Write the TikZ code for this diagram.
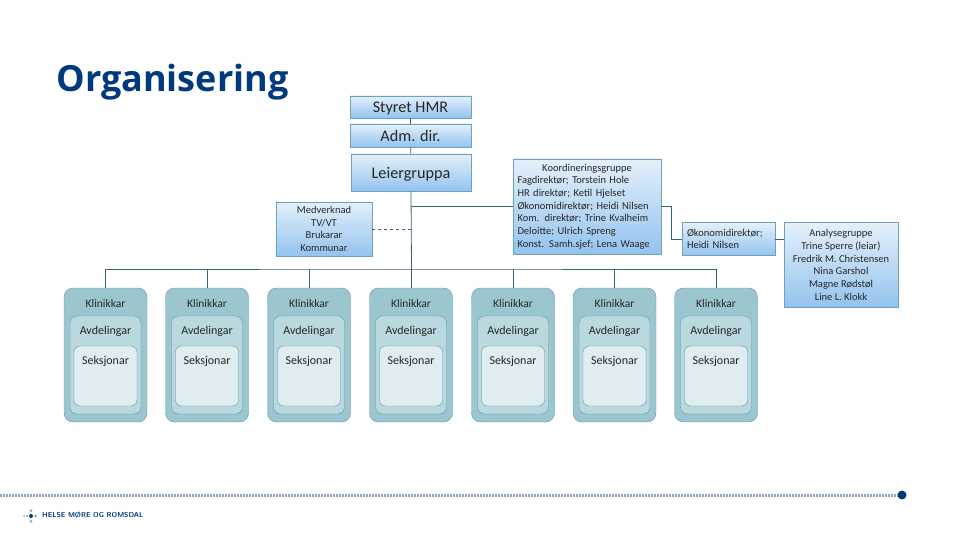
\documentclass[tikz,border=0pt]{standalone}
\usepackage{fontspec}
\setmainfont{Carlito}
\newfontfamily\titlefont{Open Sans}
\usetikzlibrary{positioning}
\definecolor{TitleBlue}{HTML}{003A7D}
\definecolor{LineTeal}{HTML}{3A6472}
\definecolor{BoxEdge}{HTML}{6FA0BC}
\definecolor{BoxTop}{HTML}{E4F0FB}
\definecolor{BoxBottom}{HTML}{93C3EE}
\definecolor{UnitEdge}{HTML}{5E98A6}
\definecolor{UnitOuter}{HTML}{9CC6CF}
\definecolor{UnitMiddle}{HTML}{B9D9DF}
\definecolor{UnitInner}{HTML}{DFECF0}
\definecolor{DotGrey}{HTML}{8FA6BE}

\begin{document}
\begin{tikzpicture}[
    x=1pt, y=-1pt,
    every node/.style={font=\fontsize{10.5}{12.7}\selectfont, text=black!85},
    govbox/.style={draw=BoxEdge, line width=0.8pt, top color=BoxTop, bottom color=BoxBottom, align=center, inner sep=0pt},
    govbig/.style={govbox, font=\fontsize{16.2}{18}\selectfont, text height=13.5pt, text depth=2pt},
    klinikk/.style={draw=UnitEdge, fill=UnitOuter, rounded corners=9pt, inner sep=0pt, minimum width=83pt, text height=19pt, text depth=115pt, font=\fontsize{11.5}{13}\selectfont},
    avdeling/.style={draw=UnitEdge, fill=UnitMiddle, rounded corners=7pt, inner sep=0pt, minimum width=71pt, text height=18pt, text depth=80pt, font=\fontsize{12}{13}\selectfont},
    seksjon/.style={draw=UnitEdge, fill=UnitInner, rounded corners=6pt, inner sep=0pt, minimum width=63pt, text height=18pt, text depth=42pt, font=\fontsize{12}{13}\selectfont},
    link/.style={draw=LineTeal, line width=0.8pt},
    logodot/.style={circle, inner sep=0pt, minimum size=3pt, fill=DotGrey}
]
\useasboundingbox (0,0) rectangle (960,540);

\node[anchor=west, font=\titlefont\bfseries\fontsize{36}{40}\selectfont, text=TitleBlue] (title) at (53,82) {Organisering};

% top of the organisation
\node[govbig, minimum width=121pt, minimum height=22pt] (styret) at (410.5,107) {Styret HMR};
\node[govbig, minimum width=121pt, minimum height=23pt] (adm) at (410.5,135.5) {Adm. dir.};
\node[govbig, minimum width=120pt, minimum height=37pt] (leier) at (411,172.5) {Leiergruppa};
\node[govbox, minimum width=96pt, minimum height=54pt] (medverknad) at (324,229) {Medverknad\\TV/VT\\Brukarar\\Kommunar};
\node[govbox, text width=139pt, minimum width=148pt, minimum height=95pt, align=left] (koord) at (587,206.5) {{\centering Koordineringsgruppe\par}Fagdirektør; Torstein Hole\\HR direktør; Ketil Hjelset\\Økonomidirektør; Heidi Nilsen\\Kom. direktør; Trine Kvalheim\\Deloitte; Ulrich Spreng\\Konst. Samh.sjef; Lena Waage};
\node[govbox, text width=83pt, minimum width=93pt, minimum height=33pt, align=left] (okonomi) at (728.5,239) {Økonomidirektør;\\Heidi Nilsen};
\node[govbox, minimum width=114pt, minimum height=85pt] (analyse) at (841,265) {Analysegruppe\\Trine Sperre (leiar)\\Fredrik M. Christensen\\Nina Garshol\\Magne Rødstøl\\Line L. Klokk};

% the seven units
\node[klinikk] (k1) at (105.5,355) {Klinikkar};
\node[klinikk] (k2) at (207,355) {Klinikkar};
\node[klinikk] (k3) at (309,355) {Klinikkar};
\node[klinikk] (k4) at (411,355) {Klinikkar};
\node[klinikk] (k5) at (513,355) {Klinikkar};
\node[klinikk] (k6) at (614.5,355) {Klinikkar};
\node[klinikk] (k7) at (716,355) {Klinikkar};
\node[avdeling] (a1) at (105.5,365) {Avdelingar};
\node[avdeling] (a2) at (207,365) {Avdelingar};
\node[avdeling] (a3) at (309,365) {Avdelingar};
\node[avdeling] (a4) at (411,365) {Avdelingar};
\node[avdeling] (a5) at (513,365) {Avdelingar};
\node[avdeling] (a6) at (614.5,365) {Avdelingar};
\node[avdeling] (a7) at (716,365) {Avdelingar};
\node[seksjon] (s1) at (105.5,376) {Seksjonar};
\node[seksjon] (s2) at (207,376) {Seksjonar};
\node[seksjon] (s3) at (309,376) {Seksjonar};
\node[seksjon] (s4) at (411,376) {Seksjonar};
\node[seksjon] (s5) at (513,376) {Seksjonar};
\node[seksjon] (s6) at (614.5,376) {Seksjonar};
\node[seksjon] (s7) at (716,376) {Seksjonar};

% connectors
\coordinate (bar) at (411.5,269);
\coordinate (elbow) at (671.5,239);
\draw[link] (styret) -- (adm);
\draw[link] (adm) -- (leier);
\draw[link] (leier.south) -- (bar);
\draw[link] (leier.south |- koord.west) -- (koord.west);
\draw[link, dashed] (medverknad.east) -- (medverknad.east -| leier.south);
\draw[link] (koord.east) -| (elbow) -- (okonomi.west);
\draw[link] (okonomi.east) -- (analyse.west |- okonomi.east);
\draw[link] (k1.north) |- (bar) -| (k7.north);
\draw[link] (k2.north) -- (k2.north |- bar);
\draw[link] (k3.north) -- (k3.north |- bar);
\draw[link] (k4.north) -- (k4.north |- bar);
\draw[link] (k5.north) -- (k5.north |- bar);
\draw[link] (k6.north) -- (k6.north |- bar);

% footer
\coordinate (dotstart) at (0,495);
\node[circle, inner sep=0pt, minimum size=9pt, fill=TitleBlue] (enddot) at (902,495) {};
\draw[DotGrey, line width=3pt, dash pattern=on 2pt off 1pt] (dotstart) -- (enddot);
\node[circle, inner sep=0pt, minimum size=4pt, fill=TitleBlue] (logo) at (31,516) {};
\node[logodot, left=0.3pt of logo, minimum size=2.5pt] (logol) {};
\node[logodot, left=0.3pt of logol, minimum size=2pt] (logoll) {};
\node[logodot, right=0.8pt of logo] (logor) {};
\node[logodot, above=1.5pt of logo] (logot) {};
\node[logodot, below=1.5pt of logo] (logob) {};
\node[anchor=west, inner sep=0pt, font=\sffamily\bfseries\fontsize{7.1}{8}\selectfont, text=TitleBlue] (logotext) at (42,515.5) {HELSE MØRE OG ROMSDAL};
\end{tikzpicture}
\end{document}
